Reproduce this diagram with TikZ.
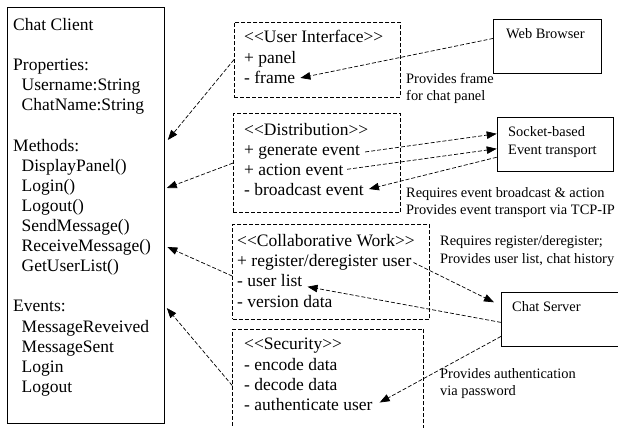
\documentclass[tikz,border=0pt]{standalone}
\usepackage{fontspec}
\setmainfont{Liberation Serif}[Ligatures=TeXOff]
\usetikzlibrary{arrows.meta}

\tikzset{
  big/.style={font=\fontsize{17.5}{20}\selectfont, anchor=base west, inner sep=0pt},
  small/.style={font=\fontsize{14.4}{17}\selectfont, anchor=base west, inner sep=0pt},
  box/.style={draw, line width=0.8pt, anchor=north west, inner sep=0pt},
  part/.style={box, dash pattern=on 4pt off 2pt},
  uses/.style={line width=0.7pt, dash pattern=on 4pt off 2pt, -{Triangle[length=10pt,width=7.5pt]}},
}

\begin{document}
\begin{tikzpicture}[x=1pt, y=-1pt]
        \clip (0,0) rectangle (618,428);

        % Chat client class
        \node [box, minimum width=157pt, minimum height=416pt] (client) at (7,7) {};
        \node [big] (clientTitle) at (13,30.5) {Chat Client};
        \node [big] (props) at (13,70.7) {Properties:};
        \node [big] (username) at (21.5,90.8) {Username:String};
        \node [big] (chatname) at (21.5,110.9) {ChatName:String};
        \node [big] (methods) at (13,151.1) {Methods:};
        \node [big] (display) at (21.5,171.2) {DisplayPanel()};
        \node [big] (login) at (21.5,191.3) {Login()};
        \node [big] (logout) at (21.5,211.4) {Logout()};
        \node [big] (send) at (21.5,231.5) {SendMessage()};
        \node [big] (receive) at (21.5,251.6) {ReceiveMessage()};
        \node [big] (getlist) at (21.5,271.7) {GetUserList()};
        \node [big] (events) at (13,311.9) {Events:};
        \node [big] (received) at (21.5,332) {MessageReveived};
        \node [big] (sent) at (21.5,352.1) {MessageSent};
        \node [big] (evLogin) at (21.5,372.2) {Login};
        \node [big] (evLogout) at (21.5,392.3) {Logout};

        % User interface part
        \node [part, minimum width=166pt, minimum height=75pt] (ui) at (234,21.7) {};
        \node [big] (uiTitle) at (244,43) {<<User Interface>>};
        \node [big] (panel) at (244,63.5) {+ panel};
        \node [big] (frame) at (244,84) {- frame};

        % Distribution part
        \node [part, minimum width=167pt, minimum height=99.3pt] (dist) at (233,113) {};
        \node [big] (distTitle) at (244,135) {<<Distribution>>};
        \node [big] (generate) at (244,155) {+ generate event};
        \node [big] (action) at (244,175) {+ action event};
        \node [big] (broadcast) at (244,195) {- broadcast event};

        % Collaborative work part
        \node [part, minimum width=197pt, minimum height=94.7pt] (collab) at (232.3,224.3) {};
        \node [big] (collabTitle) at (237,246.7) {<<Collaborative Work>>};
        \node [big] (register) at (237,266.7) {+ register/deregister user};
        \node [big] (userlist) at (237,286.7) {- user list};
        \node [big] (version) at (237,307) {- version data};

        % Security part
        \node [part, minimum width=191pt, minimum height=113pt] (security) at (232.3,328.7) {};
        \node [big] (secTitle) at (244,349.3) {<<Security>>};
        \node [big] (encode) at (244,370) {- encode data};
        \node [big] (decode) at (244,390) {- decode data};
        \node [big] (auth) at (244,410.5) {- authenticate user};

        % Outside components
        \node [box, minimum width=107.7pt, minimum height=53.4pt] (browser) at (493.3,19.3) {};
        \node [small] (browserName) at (506,38.3) {Web Browser};
        \node [box, minimum width=116.6pt, minimum height=54.3pt] (socket) at (496.7,116.7) {};
        \node [small] (socketName) at (508,136.7) {Socket-based};
        \node [small] (socketName2) at (508,154.7) {Event transport};
        \node [box, minimum width=130pt, minimum height=53.4pt] (server) at (501,292.3) {};
        \node [small] (serverName) at (512,311.7) {Chat Server};

        % Notes
        \node [small] (noteFrame) at (406,83.7) {Provides frame};
        \node [small] (noteFrame2) at (406,100.5) {for chat panel};
        \node [small] (noteEvent) at (406,197.5) {Requires event broadcast \& action};
        \node [small] (noteEvent2) at (406,214) {Provides event transport via TCP-IP};
        \node [small] (noteUser) at (440,245) {Requires register/deregister;};
        \node [small] (noteUser2) at (440,263.3) {Provides user list, chat history};
        \node [small] (noteAuth) at (440,378.3) {Provides authentication};
        \node [small] (noteAuth2) at (440,395) {via password};

        % Parts to client
        \draw [uses] (ui.west) -- ([shift={(3,133)}]client.north east);
        \draw [uses] (dist.west) -- ([shift={(2,181)}]client.north east);
        \draw [uses] ([shift={(0,4)}]collab.west) -- ([shift={(2.5,240)}]client.north east);
        \draw [uses] (security.west) -- ([shift={(2,301)}]client.north east);

        % Components to parts
        \draw [uses] ([shift={(0,-8)}]browser.west) -- ([xshift=5pt]frame.east);
        \draw [uses] ([xshift=5pt]generate.east) -- ([shift={(0,-10.5)}]socket.west);
        \draw [uses] ([xshift=3.5pt]action.east) -- ([shift={(0,4.5)}]socket.west);
        \draw [uses] ([shift={(0,13)}]socket.west) -- ([xshift=5pt]broadcast.east);
        \draw [uses] ([xshift=2pt]register.east) -- ([shift={(-7,10)}]server.north west);
        \draw [uses] ([shift={(0,3)}]server.west) -- ([shift={(5,6)}]userlist.east);
        \draw [uses] ([shift={(0,17)}]server.west) -- ([shift={(7,-2)}]auth.east);
\end{tikzpicture}
\end{document}
